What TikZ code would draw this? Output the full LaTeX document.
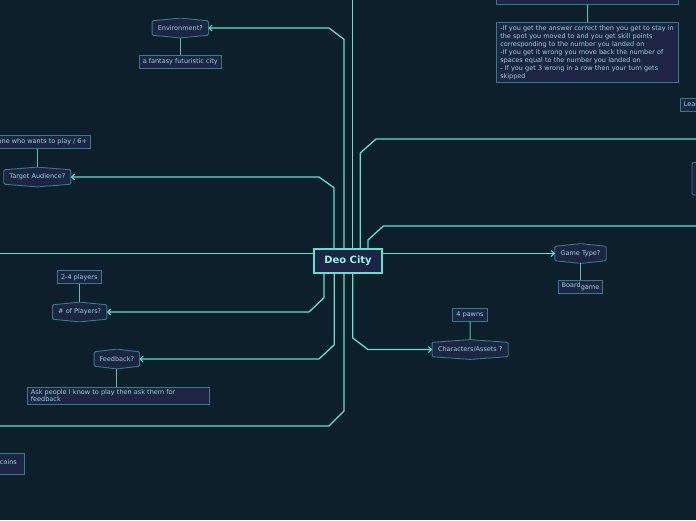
\documentclass[tikz,border=0pt]{standalone}
\usepackage{fontspec}
\setmainfont{DejaVu Sans}
\usetikzlibrary{arrows.meta,calc}
\definecolor{bgc}{HTML}{0C1F2B}
\definecolor{linec}{HTML}{5FE3CF}
\definecolor{nodef}{HTML}{1E2444}
\definecolor{nodeb}{HTML}{2F8085}
\definecolor{txtc}{HTML}{86DCD3}
\definecolor{roottxt}{HTML}{8FF5E6}
\pgfdeclarelayer{bg}\pgfdeclarelayer{shp}\pgfsetlayers{bg,shp,main}
\newcommand\smallfont{\fontsize{6.5pt}{7.9pt}\selectfont}
\tikzset{
 conn/.style={draw=linec,line width=1.3pt},
 arr/.style={conn,-{Straight Barb[length=3pt,width=6pt,line width=1pt]}},
 sub/.style={draw=linec!85!black,line width=1pt},
 box/.style={draw=nodeb,fill=nodef,line width=0.9pt,text=txtc,font=\smallfont,inner xsep=3.5pt,inner ysep=2pt,minimum height=13pt},
 hexnode/.style={text=txtc,font=\smallfont,inner xsep=1.5pt,inner ysep=1pt,minimum height=14pt},
 hexline/.style={draw=nodeb,fill=nodef,line width=0.9pt,rounded corners=1.2pt},
 rootbox/.style={draw=linec,fill=nodef,line width=1.1pt,text=roottxt,font=\bfseries\fontsize{10pt}{12pt}\selectfont,minimum width=68pt,minimum height=24pt,inner sep=2pt}
}
\newcommand\hexframe[1]{%
 \begin{pgfonlayer}{shp}
 \draw[hexline] (#1.north west) -- ([yshift=2.7pt]#1.north) -- (#1.north east) -- (#1.south east) -- ([yshift=-2.7pt]#1.south) -- (#1.south west) -- cycle;
 \end{pgfonlayer}}
\begin{document}
\begin{tikzpicture}[x=1pt,y=-1pt]
\useasboundingbox (0,0) rectangle (696,520);
\begin{pgfonlayer}{bg}
\fill[bgc] (0,0) rectangle (696,520);
\end{pgfonlayer}

% root
\node[rootbox] (root) at (348,261) {Deo City};

% hex nodes
\node[hexnode,minimum width=56pt] (env) at (180.3,28) {Environment?};
\node[hexnode,minimum width=66.7pt] (ta) at (37.3,177) {Target Audience?};
\node[hexnode,minimum width=54pt] (players) at (79.7,312) {\# of Players?};
\node[hexnode,minimum width=45pt] (fb) at (116.8,359) {Feedback?};
\node[hexnode,minimum width=51pt] (gt) at (580.5,253.5) {Game Type?};
\node[hexnode,minimum width=75.7pt] (chars) at (470.2,349.5) {Characters/Assets ?};
\node[hexnode,minimum width=60pt,minimum height=31.6pt,anchor=west] (rhex) at (692,178.7) {};
\hexframe{env}\hexframe{ta}\hexframe{players}\hexframe{fb}\hexframe{gt}\hexframe{chars}\hexframe{rhex}

% box nodes
\node[box,minimum width=82pt] (fantasy) at (180.3,62.2) {a fantasy futuristic city};
\node[box,anchor=east] (who) at (91,141.8) {Anyone who wants to play / 6+};
\node[box,minimum width=44pt] (p24) at (79.3,277.3) {2-4 players};
\node[box,text width=175pt,align=left,anchor=north west] (ask) at (27,386.7) {Ask people I know to play then ask them for\\feedback};
\node[box,minimum width=44.4pt] (bgame) at (580.5,286.8) {Board\raisebox{-1.5pt}{game}};
\node[box,minimum width=34pt] (pawns) at (470,314.7) {4 pawns};
\node[box,text width=175pt,align=left,inner ysep=3pt,anchor=north west] (rules) at (496.3,22.3) {-If you get the answer correct then you get to stay in\\the spot you moved to and you get skill points\\corresponding to the number you landed on\\-If you get it wrong you move back the number of\\spaces equal to the number you landed on\\- If you get 3 wrong in a row then your turn gets\\skipped};
\node[box,minimum width=182.4pt,minimum height=30pt,anchor=south] (topbox) at (587.5,4.7) {};
\node[box,anchor=west] (lea) at (680,104.5) {Learning};
\node[box,anchor=east,text width=54pt,align=right,minimum height=21pt,inner xsep=3pt] (coins) at (25.3,463.8) {\raisebox{4.5pt}{coins}\kern5pt};

% free ends
\coordinate (topout) at (352.7,-5);
\coordinate (r1) at (705,139);
\coordinate (r2) at (705,226);
\coordinate (l1) at (-5,253.5);
\coordinate (l2) at (-5,426);

% main connectors
\draw[arr] ([xshift=-4pt]root.north) -- (344,39.3) -- (329,28) -- (env.east);
\draw[conn] ([xshift=4.7pt]root.north) -- (topout);
\draw[arr] ([xshift=-14pt]root.north) -- (334,187.7) -- (319,177) -- (ta.east);
\draw[conn] ([xshift=12.3pt]root.north) -- (360.3,153) -- (376,139) -- (r1);
\draw[conn] ([xshift=20pt]root.north) -- (368,240) -- (383.3,226) -- (r2);
\draw[arr] ([yshift=7.5pt]root.east) -- (gt.west);
\draw[conn] ([yshift=7.5pt]root.west) -- (l1);
\draw[arr] ([xshift=-24pt]root.south) -- (324,297.7) -- (309,312) -- (players.east);
\draw[arr] ([xshift=-13.7pt]root.south) -- (334.3,344.7) -- (319,359) -- (fb.east);
\draw[conn] ([xshift=-4pt]root.south) -- (344,411) -- (329,426) -- (l2);
\draw[arr] ([xshift=4.7pt]root.south) -- (352.7,338) -- (368,349.5) -- (chars.west);

% sub connectors
\draw[sub] ([yshift=-2.7pt]env.south) -- (fantasy.north);
\draw[sub] ([yshift=2.7pt]ta.north) -- (ta.north |- who.south);
\draw[sub] ([yshift=2.7pt]players.north) -- (players.north |- p24.south);
\draw[sub] ([yshift=-2.7pt]fb.south) -- (fb.south |- ask.north);
\draw[sub] ([yshift=-2.7pt]gt.south) -- (bgame.north);
\draw[sub] ([yshift=2.7pt]chars.north) -- (pawns.south);
\draw[sub] (topbox.south) -- (rules.north);
\end{tikzpicture}
\end{document}
